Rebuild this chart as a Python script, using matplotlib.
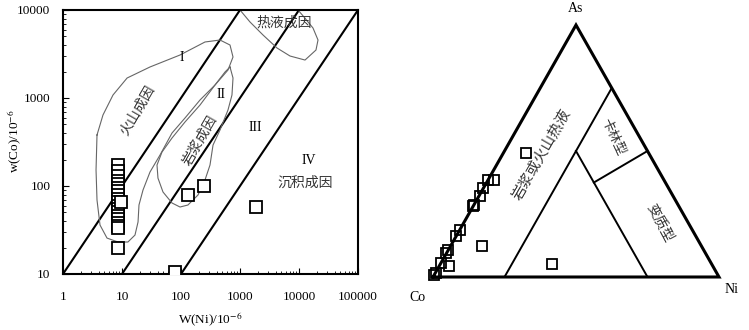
import numpy as np
import matplotlib
matplotlib.use('Agg')
import matplotlib.pyplot as plt

SERIF = ['Liberation Serif', 'DejaVu Serif']
CJK = ['Noto Sans CJK SC', 'DejaVu Sans']
plt.rcParams['font.family'] = SERIF
plt.rcParams['mathtext.fontset'] = 'stix'

# ---- left: Co vs Ni (log-log) ----
ni_pts = [8.5] * 18 + [9.5, 8.5, 80, 130, 250, 1900]
co_pts = [175, 150, 130, 115, 105, 95, 87, 80, 72, 66, 60, 55, 50, 46, 42, 38, 35, 33,
          65, 20, 10.5, 80, 100, 57]

# field boundaries (Ni, Co)
volc_ni = [3.77, 4.76, 7.04, 12.2, 29.8, 96.2, 255, 458, 677, 761, 626, 377, 210, 117,
           70.4, 44.1, 29.8, 22.7, 19.4, 18.7, 16.6, 12.6, 8.55, 5.57, 4.24, 3.77, 3.63, 3.77]
volc_co = [380, 641, 1082, 1687, 2251, 3080, 4330, 4560, 4000, 2923, 2080, 1405, 949, 593,
           400, 225, 144, 90, 60.8, 39, 27.7, 23.1, 23.1, 25.6, 36, 69.3, 152, 380]
magm_ni = [677, 761, 731, 626, 458, 349, 310, 255, 194, 131, 96.2, 70.4, 49.5, 40.7, 39.2,
           47.6, 70.4, 117, 210, 377, 557, 677]
magm_co = [2250, 1687, 1082, 731, 433, 292, 173, 117, 79, 60.8, 57.7, 64.1, 85.5, 123, 173,
           243, 351, 534, 832, 1405, 1974, 2250]
hydro_ni = [1000, 1477, 2455, 4240, 7040, 12650, 19400, 21000, 17270, 12160, 9620]
hydro_co = [10000, 7310, 5200, 3700, 3000, 2700, 3510, 4560, 6240, 8320, 10000]

# ---- right: Co-Ni-As ternary ----
as_frac = [0.385, 0.385, 0.352, 0.32, 0.286, 0.28, 0.187, 0.163, 0.107, 0.094,
           0.044, 0.054, 0.015, 0.008, 0.493, 0.05, 0.123]
ni_frac = [0.02, 0.0, 0.0, 0.005, 0.0, 0.0, 0.0, 0.0, 0.0, 0.0,
           0.035, 0.0, 0.003, 0.0, 0.08, 0.39, 0.11]

W, H = 749, 330
fig = plt.figure(figsize=(W / 100, H / 100), dpi=100)
fig.patch.set_facecolor('white')

def px_rect(l, t, r, b):
    return [l / W, (H - b) / H, (r - l) / W, (b - t) / H]

ax = fig.add_axes(px_rect(63, 10, 358, 274))
ax.set_xscale('log'); ax.set_yscale('log')
ax.set_xlim(1, 100000); ax.set_ylim(10, 10000)

# boundary lines Co = 10 Ni, Co = Ni, Co = Ni/10
xs = np.array([1, 100000.0])
for k in [10, 1, 0.1]:
    ax.plot(xs, k * xs, color='black', lw=1.5)

for xx, yy in [(volc_ni, volc_co), (magm_ni, magm_co), (hydro_ni, hydro_co)]:
    ax.plot(xx, yy, color='#666666', lw=0.8)

ax.plot(ni_pts, co_pts, 's', ms=8.5, mfc='white', mec='black', mew=1.3, ls='none', zorder=5)

for sp in ax.spines.values():
    sp.set_linewidth(1.5)
ax.tick_params(which='both', direction='in', top=False, right=False, labelsize=9.5)
ax.tick_params(which='major', length=4)
ax.tick_params(which='minor', length=2.5)
ax.set_xticks([1, 10, 100, 1000, 10000, 100000])
ax.set_xticklabels(['1', '10', '100', '1000', '10000', '100000'])
ax.set_yticks([10, 100, 1000, 10000])
ax.set_yticklabels(['10', '100', '1000', '10000'])
ax.tick_params(axis='x', pad=12)
ax.tick_params(axis='y', pad=9)
ax.set_xlabel(r'W(Ni)/10$^{-6}$', fontsize=9.5, labelpad=6)
fig.text(15 / W, 1 - 141 / H, r'w(Co)/10$^{-6}$', fontsize=9.5, rotation=90,
         ha='center', va='center')

roman = dict(fontsize=10, ha='center', va='center')
ax.text(104, 2923, 'I', **roman)
ax.text(476, 1082, 'II', **roman)
ax.text(1795, 468, 'III', **roman)
ax.text(14760, 197, 'IV', **roman)
cjk = dict(family=CJK, color='#333333', ha='center', va='center')
ax.text(12650, 108, '沉积成因', fontsize=10, **cjk)
ax.text(5570, 7110, '热液成因', fontsize=10, **cjk)
ax.text(18.7, 731, '火山成因', fontsize=10, rotation=60, **cjk)
ax.text(210, 333, '岩浆成因', fontsize=10, rotation=60, **cjk)

# ternary
tx = fig.add_axes(px_rect(433, 25, 719, 277))
tx.set_xlim(0, 1); tx.set_ylim(0, np.sqrt(3) / 2)
tx.axis('off')

def tern(a, n):
    a = np.asarray(a, float); n = np.asarray(n, float)
    return n + a / 2, a * np.sqrt(3) / 2

ox, oy = tern([0, 1, 0, 0], [0, 0, 1, 0])
tx.plot(ox, oy, color='black', lw=2.2, clip_on=False, solid_joinstyle='miter')
# Ni = 0.25, Co = 0.25 and Ni = As boundaries
for a, n in [([0, 0.75], [0.25, 0.25]), ([0, 0.5], [0.75, 0.25]), ([0.375, 0.5], [0.375, 0.5])]:
    lx, ly = tern(a, n)
    tx.plot(lx, ly, color='black', lw=1.4)

px_, py_ = tern(as_frac, ni_frac)
tx.plot(px_, py_, 's', ms=7.5, mfc='none', mec='black', mew=1.3, ls='none', clip_on=False)

tx.text(0.5, 0.866 + 0.058, 'As', fontsize=10, ha='center', va='center', clip_on=False)
tx.text(-0.055, -0.07, 'Co', fontsize=10, ha='center', va='center', clip_on=False)
tx.text(1.045, -0.043, 'Ni', fontsize=10, ha='center', va='center', clip_on=False)
tx.text(0.381, 0.419, '岩浆或火山热液', fontsize=10.5, rotation=60, **cjk)
tx.text(0.629, 0.481, '卡林型', fontsize=9.5, rotation=-65, **cjk)
tx.text(0.794, 0.186, '变质型', fontsize=10, rotation=-62, **cjk)

fig.savefig('out.png', dpi=100, facecolor='white')
